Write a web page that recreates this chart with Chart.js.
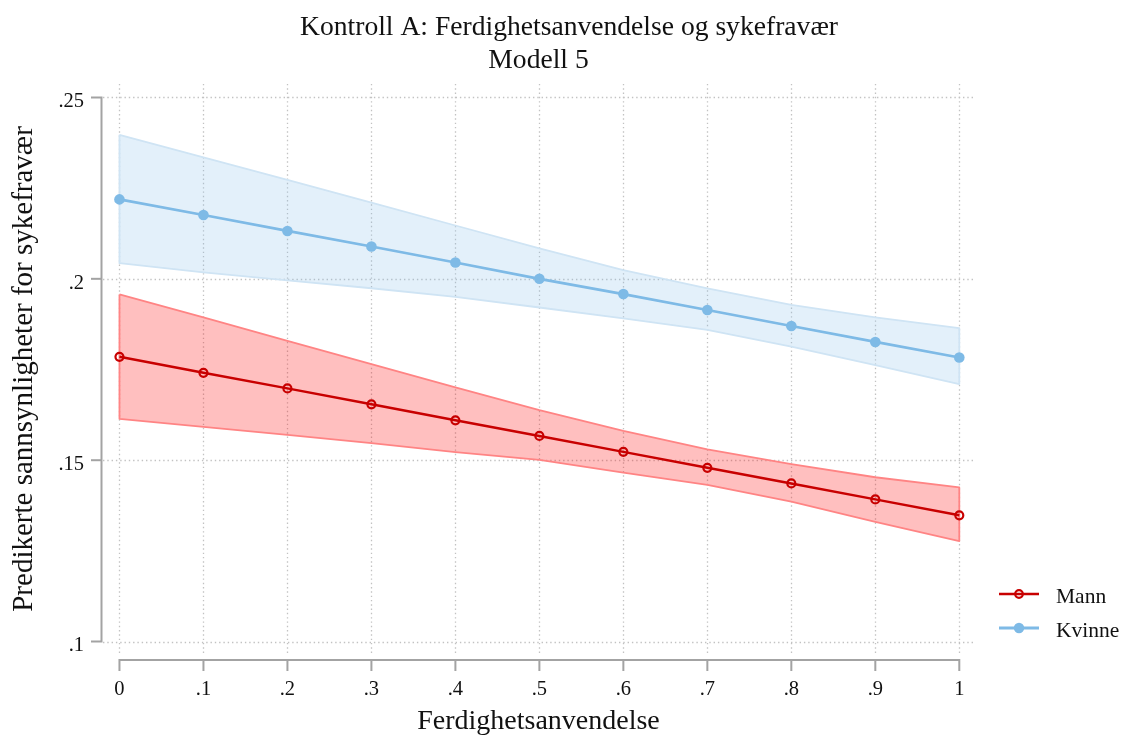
<!DOCTYPE html>
<html lang="no">
<head>
<meta charset="utf-8">
<title>Kontroll A: Ferdighetsanvendelse og sykefravær</title>
<script src="https://cdn.jsdelivr.net/npm/chart.js@4.4.1/dist/chart.umd.min.js"></script>
<style>
  html, body { margin: 0; padding: 0; background: #fff; }
  #wrap { position: relative; width: 1126px; height: 737px; overflow: hidden; }
  #c { position: absolute; left: 0; top: 0; }
  .key { position: absolute; left: 997px; height: 20px; display: flex; align-items: center;
         font-family: 'Liberation Serif', 'Times New Roman', Times, serif; font-size: 21.5px; color: #111; }
  .key span { margin-left: 15px; line-height: 20px; position: relative; top: 2px; white-space: nowrap; }
</style>
</head>
<body>
<div id="wrap">
  <canvas id="c" width="1126" height="737"></canvas>
  <div class="key" id="key-mann" style="top:583.5px">
    <svg width="44" height="20"><line x1="2" y1="10" x2="42" y2="10" stroke="#c80000" stroke-width="2.5"/><circle cx="22" cy="10" r="3.8" fill="none" stroke="#c80000" stroke-width="2.2"/></svg>
    <span>Mann</span>
  </div>
  <div class="key" id="key-kvinne" style="top:617.5px">
    <svg width="44" height="20"><line x1="2" y1="10" x2="42" y2="10" stroke="#7ebae6" stroke-width="3.2"/><circle cx="22" cy="10" r="5.2" fill="#7ebae6"/></svg>
    <span>Kvinne</span>
  </div>
</div>
<script>
// Ferdighetsanvendelse (x) and predicted probabilities with 95 % bands
const xValues   = [0, 0.1, 0.2, 0.3, 0.4, 0.5, 0.6, 0.7, 0.8, 0.9, 1];
const xTickLabels = ['0', '.1', '.2', '.3', '.4', '.5', '.6', '.7', '.8', '.9', '1'];
const yTickValues = [0.1, 0.15, 0.2, 0.25];
const yTickLabels = ['.1', '.15', '.2', '.25'];

const mannPred  = [0.1785, 0.1741, 0.1698, 0.1654, 0.1610, 0.1567, 0.1523, 0.1479, 0.1436, 0.1392, 0.1348];
const mannUpper = [0.1957, 0.1894, 0.1829, 0.1765, 0.1701, 0.1638, 0.1581, 0.1530, 0.1489, 0.1453, 0.1425];
const mannLower = [0.1614, 0.1592, 0.1570, 0.1547, 0.1522, 0.1501, 0.1466, 0.1432, 0.1386, 0.1330, 0.1277];

const kvinnePred  = [0.2219, 0.2176, 0.2132, 0.2089, 0.2045, 0.2000, 0.1958, 0.1914, 0.1870, 0.1826, 0.1783];
const kvinneUpper = [0.2397, 0.2335, 0.2273, 0.2210, 0.2147, 0.2084, 0.2024, 0.1974, 0.1928, 0.1894, 0.1864];
const kvinneLower = [0.2043, 0.2018, 0.1996, 0.1974, 0.1950, 0.1921, 0.1891, 0.1859, 0.1813, 0.1762, 0.1710];

const titleText    = 'Kontroll A: Ferdighetsanvendelse og sykefravær';
const subtitleText = 'Modell 5';
const xAxisTitle   = 'Ferdighetsanvendelse';
const yAxisTitle   = 'Predikerte sannsynligheter for sykefravær';

const serif = "'Liberation Serif', 'Times New Roman', Times, serif";

const toPoints = ys => xValues.map((x, i) => ({ x: x, y: ys[i] }));
// closed outline: upper edge left to right, lower edge back, then close
const bandOutline = (upper, lower) => {
  const pts = toPoints(upper).concat(toPoints(lower).reverse());
  pts.push(pts[0]);
  return pts;
};

// dotted grid plus Stata-like axis lines that only span the tick range
const frame = {
  id: 'frame',
  beforeDatasetsDraw(chart) {
    const { ctx, chartArea: a, scales } = chart;
    const xs = scales.x, ys = scales.y;
    ctx.save();
    ctx.strokeStyle = '#c2c2c2';
    ctx.lineWidth = 1.3;
    ctx.setLineDash([1.4, 2.9]);
    xValues.forEach(v => {
      const px = Math.round(xs.getPixelForValue(v)) + 0.5;
      ctx.beginPath(); ctx.moveTo(px, a.top); ctx.lineTo(px, a.bottom); ctx.stroke();
    });
    yTickValues.forEach(v => {
      const py = Math.round(ys.getPixelForValue(v)) + 0.5;
      ctx.beginPath(); ctx.moveTo(a.left + 1, py); ctx.lineTo(a.right, py); ctx.stroke();
    });
    ctx.setLineDash([]);
    ctx.strokeStyle = '#a3a3a3';
    ctx.lineWidth = 2;
    const ax = a.left - 0.5;
    const yTop = ys.getPixelForValue(yTickValues[yTickValues.length - 1]);
    const yBot = ys.getPixelForValue(yTickValues[0]);
    ctx.beginPath();
    ctx.moveTo(ax - 10.5, yTop); ctx.lineTo(ax, yTop); ctx.lineTo(ax, yBot); ctx.lineTo(ax - 10.5, yBot);
    ctx.stroke();
    yTickValues.slice(1, -1).forEach(v => {
      const py = ys.getPixelForValue(v);
      ctx.beginPath(); ctx.moveTo(ax - 10.5, py); ctx.lineTo(ax, py); ctx.stroke();
    });
    const ay = a.bottom + 6;
    const x0 = xs.getPixelForValue(xValues[0]);
    const x1 = xs.getPixelForValue(xValues[xValues.length - 1]);
    ctx.beginPath();
    ctx.moveTo(x0, ay + 11); ctx.lineTo(x0, ay); ctx.lineTo(x1, ay); ctx.lineTo(x1, ay + 11);
    ctx.stroke();
    xValues.slice(1, -1).forEach(v => {
      const px = xs.getPixelForValue(v);
      ctx.beginPath(); ctx.moveTo(px, ay); ctx.lineTo(px, ay + 11); ctx.stroke();
    });
    ctx.restore();
  }
};

new Chart(document.getElementById('c'), {
  type: 'line',
  data: {
    datasets: [
      {
        label: 'Mann', data: toPoints(mannPred), order: 0,
        borderColor: '#c80000', borderWidth: 2.5, fill: false,
        pointRadius: 4, pointBorderWidth: 2.2, pointBorderColor: '#c80000',
        pointBackgroundColor: 'rgba(0,0,0,0)'
      },
      {
        label: 'Kvinne', data: toPoints(kvinnePred), order: 0,
        borderColor: '#7ebae6', borderWidth: 2.7, fill: false,
        pointRadius: 5.3, pointBorderWidth: 0, pointBackgroundColor: '#7ebae6'
      },
      {
        label: 'Mann 95 % KI', data: bandOutline(mannUpper, mannLower), order: 1,
        borderColor: '#ff8484', borderWidth: 1.8, fill: 'shape',
        backgroundColor: 'rgba(255,0,0,0.25)', pointRadius: 0
      },
      {
        label: 'Kvinne 95 % KI', data: bandOutline(kvinneUpper, kvinneLower), order: 1,
        borderColor: '#cfe4f4', borderWidth: 1.8, fill: 'shape',
        backgroundColor: 'rgba(126,186,230,0.22)', pointRadius: 0
      }
    ]
  },
  options: {
    responsive: false,
    animation: false,
    events: [],
    layout: { padding: { left: 12, right: 0, top: 0, bottom: 0 } },
    elements: { line: { tension: 0, borderJoinStyle: 'round' } },
    plugins: {
      legend: { display: false },
      tooltip: { enabled: false },
      title: {
        display: true, text: titleText, color: '#111', fullSize: true,
        font: { family: serif, size: 27.6, weight: 'normal', lineHeight: 1.22 },
        padding: { top: 10.6, bottom: 0 }
      },
      subtitle: {
        display: true, text: subtitleText, color: '#111', fullSize: false,
        font: { family: serif, size: 27.6, weight: 'normal', lineHeight: 1.22 },
        padding: { top: 0, bottom: 6 }
      }
    },
    scales: {
      x: {
        type: 'linear', position: 'bottom',
        min: -0.0208, max: 1.0187,
        afterBuildTicks: s => { s.ticks = xValues.map(v => ({ value: v })); },
        afterFit: s => { s.height = 83; },
        grid: { display: false, drawTicks: false },
        border: { display: false },
        ticks: {
          autoSkip: false, maxRotation: 0, padding: 23, color: '#111',
          font: { family: serif, size: 20.5 },
          callback: (v, i) => xTickLabels[i]
        },
        title: {
          display: true, text: xAxisTitle, color: '#111',
          font: { family: serif, size: 28, lineHeight: 1 },
          padding: { top: 0, bottom: 1 }
        }
      },
      y: {
        type: 'linear', position: 'left',
        min: 0.09658, max: 0.25372,
        afterBuildTicks: s => { s.ticks = yTickValues.map(v => ({ value: v })); },
        afterFit: s => { s.width = 90; },
        grid: { display: false, drawTicks: false },
        border: { display: false },
        ticks: {
          padding: 18, color: '#111',
          font: { family: serif, size: 20.5, lineHeight: '9px' },
          callback: (v, i) => ['', yTickLabels[i]]
        },
        title: {
          display: true, text: yAxisTitle, color: '#111',
          font: { family: serif, size: 29, lineHeight: 0.83 },
          padding: { top: 0, bottom: 0 }
        }
      },
      side: {
        type: 'linear', position: 'right', display: true,
        grid: { display: false, drawTicks: false },
        border: { display: false },
        ticks: { display: false },
        afterFit: s => { s.width = 151; }
      }
    }
  },
  plugins: [frame]
});
</script>
</body>
</html>
